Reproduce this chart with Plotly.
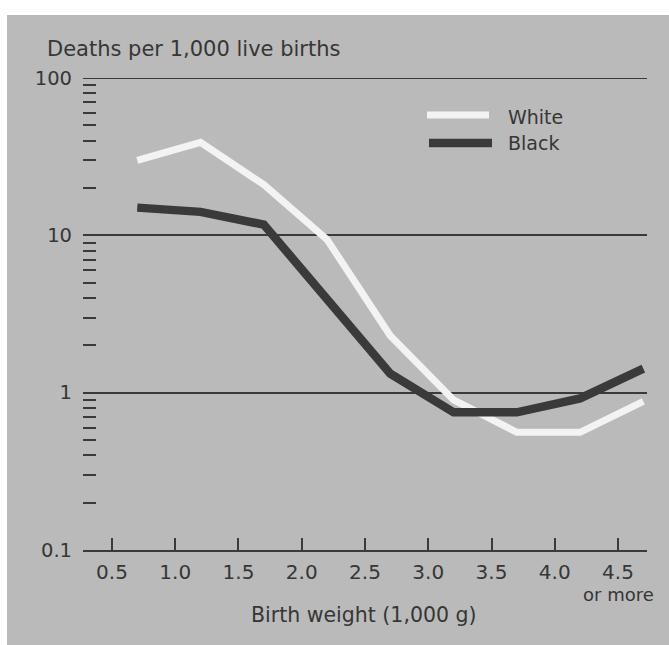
import plotly.graph_objects as go

# ---- data ----
birth_weight = [0.7, 1.2, 1.7, 2.2, 2.7, 3.2, 3.7, 4.2, 4.7]
white_rate = [30, 39, 21, 9.4, 2.3, 0.90, 0.56, 0.56, 0.88]
black_rate = [15, 14.1, 11.7, 3.9, 1.32, 0.75, 0.75, 0.92, 1.42]

x_tickvals = [0.5, 1.0, 1.5, 2.0, 2.5, 3.0, 3.5, 4.0, 4.5]
x_ticktext = ["0.5", "1.0", "1.5", "2.0", "2.5", "3.0", "3.5", "4.0", "4.5"]
y_tickvals = [0.1, 1, 10, 100]
y_ticktext = ["0.1", "1", "10", "100"]
y_minor = [m * d for d in (0.1, 1, 10) for m in range(2, 10)]
y_top_grid = 100

BG = "#bababa"
INK = "#363636"
GRID = "#3a3a3a"
FONT = "DejaVu Sans"

W, H = 669, 645
ML, MR, MT, MB = 83, 22, 78, 95
PW, PH = W - ML - MR, H - MT - MB


def px(xs):
    # screenshot x -> paper x
    return (xs - ML) / PW


def py(ys):
    # screenshot y -> paper y
    return (H - MB - ys) / PH


fig = go.Figure()
fig.add_trace(go.Scatter(x=birth_weight, y=white_rate, mode="lines",
                         line=dict(color="#f3f3f3", width=7), name="White",
                         showlegend=False, hoverinfo="skip"))
fig.add_trace(go.Scatter(x=birth_weight, y=black_rate, mode="lines",
                         line=dict(color="#3a3a3a", width=8.5), name="Black",
                         showlegend=False, hoverinfo="skip"))

shapes = [
    # white border strips of the scan (top and left)
    dict(type="rect", xref="paper", yref="paper", x0=px(0), x1=px(W), y0=py(15), y1=py(0),
         fillcolor="white", line=dict(width=0), layer="below"),
    dict(type="rect", xref="paper", yref="paper", x0=px(0), x1=px(7), y0=py(H), y1=py(0),
         fillcolor="white", line=dict(width=0), layer="below"),
    # top grid line (at the edge of the plot area)
    dict(type="line", xref="paper", yref="y", x0=0, x1=1, y0=y_top_grid, y1=y_top_grid,
         line=dict(color=GRID, width=1.8), layer="below"),
    # legend keys
    dict(type="line", xref="paper", yref="paper", x0=px(427), x1=px(489), y0=py(115), y1=py(115),
         line=dict(color="#f3f3f3", width=7)),
    dict(type="line", xref="paper", yref="paper", x0=px(429), x1=px(492), y0=py(143), y1=py(143),
         line=dict(color="#3a3a3a", width=8.5)),
]

annotations = [
    dict(text="Deaths per 1,000 live births", xref="paper", yref="paper",
         x=px(45), y=py(49), xanchor="left", yanchor="middle", showarrow=False,
         font=dict(family=FONT, size=21, color=INK)),
    dict(text="Birth weight (1,000 g)", xref="paper", yref="paper",
         x=px(364), y=py(615), xanchor="center", yanchor="middle", showarrow=False,
         font=dict(family=FONT, size=20.5, color=INK)),
    dict(text="or more", xref="x", yref="paper",
         x=4.5, y=py(594), xanchor="center", yanchor="middle", showarrow=False,
         font=dict(family=FONT, size=18, color=INK)),
    dict(text="White", xref="paper", yref="paper",
         x=px(506), y=py(117), xanchor="left", yanchor="middle", showarrow=False,
         font=dict(family=FONT, size=19, color=INK)),
    dict(text="Black", xref="paper", yref="paper",
         x=px(506), y=py(143), xanchor="left", yanchor="middle", showarrow=False,
         font=dict(family=FONT, size=19, color=INK)),
]

fig.update_layout(
    width=W, height=H,
    margin=dict(l=ML, r=MR, t=MT, b=MB, pad=0),
    paper_bgcolor=BG, plot_bgcolor=BG,
    shapes=shapes, annotations=annotations,
    showlegend=False,
    font=dict(family=FONT, color=INK),
    xaxis=dict(range=[0.271, 4.729], tickvals=x_tickvals, ticktext=x_ticktext,
               ticks="inside", ticklen=12, tickwidth=2, tickcolor=GRID,
               showline=True, linecolor=GRID, linewidth=2,
               showgrid=False, zeroline=False, fixedrange=True,
               ticklabelstandoff=3,
               tickfont=dict(family=FONT, size=20, color=INK)),
    yaxis=dict(type="log", range=[-1, 2], tickvals=y_tickvals, ticktext=y_ticktext,
               ticks="", showline=False, showgrid=True, gridcolor=GRID, gridwidth=1.8,
               zeroline=False, fixedrange=True, ticklabelstandoff=10,
               tickfont=dict(family=FONT, size=19.5, color=INK),
               minor=dict(tickvals=y_minor, ticks="inside", ticklen=13, tickwidth=2,
                          tickcolor=GRID, showgrid=False)),
)

fig.write_html(
    "out.html",
    config={"displayModeBar": False, "staticPlot": True},
    post_script="document.body.style.margin='0';document.body.style.overflow='hidden';",
)
